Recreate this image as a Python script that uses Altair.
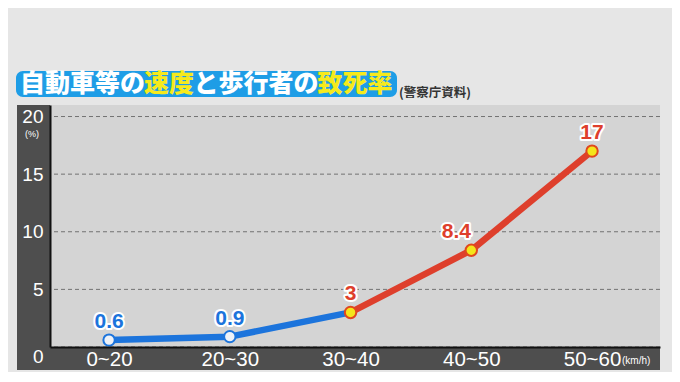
import altair as alt
import pandas as pd

# ---- data ----
speeds = ["0~20", "20~30", "30~40", "40~50", "50~60"]
rates = [0.6, 0.9, 3, 8.4, 17]
rate_labels = ["0.6", "0.9", "3", "8.4", "17"]
groups = ["low", "low", "high", "high", "high"]
low_segment = [0, 1, 2]      # indices drawn in blue
high_segment = [2, 3, 4]     # indices drawn in red
y_ticks = [0, 5, 10, 15, 20]

title_parts = ["自動車等の", "速度", "と歩行者の", "致死率"]
title_part_colors = ["#ffffff", "#f6ea1c", "#ffffff", "#f6ea1c"]
source_text = "(警察庁資料)"
y_unit = "(%)"
x_unit = "(km/h)"

BLUE = "#1c74dc"
RED = "#de3f2c"
YELLOW = "#f4e51a"
DARK = "#4e4e4e"

pts = pd.DataFrame({"speed": speeds, "rate": rates, "lab": rate_labels, "grp": groups})
line_rows = [dict(speed=speeds[i], rate=rates[i], seg="low", o=k) for k, i in enumerate(low_segment)]
line_rows += [dict(speed=speeds[i], rate=rates[i], seg="high", o=k) for k, i in enumerate(high_segment)]
lines_df = pd.DataFrame(line_rows)
grid_df = pd.DataFrame({"rate": y_ticks})
one = alt.Data(values=[{"a": 1}])

W, H = 610, 242

x_enc = alt.X(
    "speed:N",
    sort=speeds,
    scale=alt.Scale(type="point", domain=speeds, padding=0.526, align=0.465),
    axis=alt.Axis(
        title=None, ticks=False, grid=False, domainColor="#111111", domainWidth=2,
        labelColor="white", labelFontSize=20.5, labelFont="Liberation Sans",
        labelBaseline="middle", labelPadding=12, labelAngle=0, zindex=1,
    ),
)
y_enc = alt.Y(
    "rate:Q",
    scale=alt.Scale(domain=[0, 21], nice=False, zero=True),
    axis=alt.Axis(
        title=None, values=y_ticks, ticks=False, grid=False, domainColor="#111111",
        domainWidth=2, labelColor="white", labelFontSize=19, labelFont="Liberation Sans",
        labelPadding=7, zindex=1,
        labelBaseline={"condition": {"test": "datum.value == 0", "value": "top"}, "value": "middle"},
    ),
)

# frame
left_strip = alt.Chart(one).mark_rect(color=DARK).encode(
    x=alt.value(-33), x2=alt.value(0), y=alt.value(0), y2=alt.value(H + 23)
)
bottom_band = alt.Chart(one).mark_rect(color=DARK).encode(
    x=alt.value(-33), x2=alt.value(W), y=alt.value(H), y2=alt.value(H + 23)
)

grid = alt.Chart(grid_df).mark_rule(color="#727272", strokeWidth=1, strokeDash=[4, 3]).encode(
    y=y_enc
)

line = alt.Chart(lines_df).mark_line(strokeWidth=6.5, strokeCap="round", strokeJoin="round").encode(
    x=x_enc, y=y_enc, order="o:Q",
    color=alt.Color("seg:N", scale=alt.Scale(domain=["low", "high"], range=[BLUE, RED]), legend=None),
)

points = alt.Chart(pts).mark_circle(size=130, opacity=1, strokeWidth=2).encode(
    x=x_enc, y=y_enc,
    fill=alt.Fill("grp:N", scale=alt.Scale(domain=["low", "high"], range=["#eef2f8", YELLOW]), legend=None),
    stroke=alt.Stroke("grp:N", scale=alt.Scale(domain=["low", "high"], range=[BLUE, "#e0481e"]), legend=None),
)

lab_color = alt.Color("grp:N", scale=alt.Scale(domain=["low", "high"], range=[BLUE, RED]), legend=None)
tkw = dict(fontSize=21, fontWeight="bold", font="Liberation Sans", baseline="middle", dy=-18)

def label_layers(filt, dx):
    base = alt.Chart(pts).transform_filter(filt)
    halo = base.mark_text(**tkw, dx=dx, stroke="white", strokeWidth=4, strokeJoin="round", fill="white").encode(
        x=x_enc, y=y_enc, text="lab:N")
    fill = base.mark_text(**tkw, dx=dx).encode(x=x_enc, y=y_enc, text="lab:N", color=lab_color)
    return [halo, fill]

labels = label_layers("datum.speed != '40~50'", 0) + label_layers("datum.speed == '40~50'", -15)

# title
title_box = alt.Chart(one).mark_rect(color="#1e9de6", cornerRadius=7).encode(
    x=alt.value(-34), x2=alt.value(347), y=alt.value(-34), y2=alt.value(-8)
)
title_layers = []
idx = 0
for part, col in zip(title_parts, title_part_colors):
    title_layers.append(
        alt.Chart(one).mark_text(
            align="left", baseline="middle", fontSize=25, fontWeight=900,
            font="Noto Sans CJK JP", color=col,
        ).encode(x=alt.value(-30 + idx * 24.8), y=alt.value(-21), text=alt.value(part))
    )
    idx += len(part)

source = alt.Chart(one).mark_text(
    align="left", baseline="middle", fontSize=12.5, fontWeight="bold",
    font="Noto Sans CJK JP", color="#333333",
).encode(x=alt.value(349), y=alt.value(-12), text=alt.value(source_text))

yunit = alt.Chart(one).mark_text(
    align="center", baseline="middle", fontSize=9, font="Liberation Sans", color="white"
).encode(x=alt.value(-18), y=alt.value(29), text=alt.value(y_unit))

xunit = alt.Chart(one).mark_text(
    align="left", baseline="middle", fontSize=10, font="Liberation Sans", color="white"
).encode(x=alt.value(572), y=alt.value(H + 14), text=alt.value(x_unit))

chart = alt.layer(
    left_strip, bottom_band, grid, line, points, *labels, title_box, *title_layers, source, yunit, xunit
).properties(
    width=W, height=H,
    autosize=alt.AutoSizeParams(type="none"),
    padding={"left": 42, "top": 97, "right": 12, "bottom": 25},
    background="#e6e6e6",
).configure_view(fill="#d4d4d4", stroke=None)

chart.save("out.html", embed_options={"renderer": "svg", "actions": False})
